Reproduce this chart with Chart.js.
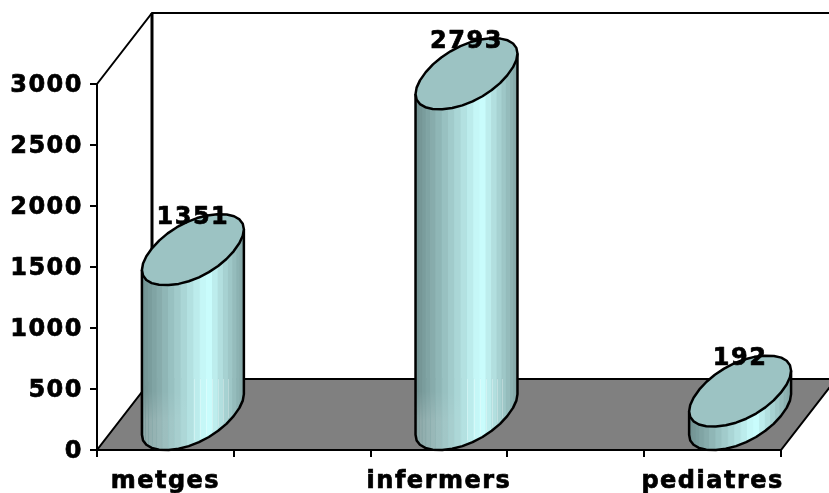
<!DOCTYPE html>
<html>
<head>
<meta charset="utf-8">
<style>
html, body { margin: 0; padding: 0; background: #fff; }
canvas { display: block; }
</style>
<script src="https://cdn.jsdelivr.net/npm/chart.js@4"></script>
</head>
<body>
<canvas id="chart" width="829" height="493"></canvas>
<script>
// two blank categories keep the tick spacing of the original axis
const categories = ['metges', '', 'infermers', '', 'pediatres'];
const values = [1351, null, 2793, null, 192];
const yTicks = [0, 500, 1000, 1500, 2000, 2500, 3000];

const DEPTH_X = 55;
const DEPTH_Y = -71;
const FONT = 'bold 24px "DejaVu Sans"';

// colour of a cylinder strip, pos goes 0 (left) to 1 (right)
function stripColor(pos) {
    const stops = [[0, [110, 142, 142]], [0.65, [204, 255, 255]], [1, [130, 165, 165]]];
    const i = pos < stops[1][0] ? 0 : 1;
    const f = (pos - stops[i][0]) / (stops[i + 1][0] - stops[i][0]);
    const c = stops[i][1].map((v, k) => Math.round(v + (stops[i + 1][1][k] - v) * f));
    return `rgb(${c[0]},${c[1]},${c[2]})`;
}

// slightly squarer than an ellipse, the original cap is fat
function bulge(v) {
    return Math.sign(v) * Math.pow(Math.abs(v), 0.95);
}

function drawCylinder(ctx, x, yBase, yTop, halfW) {
    const stripSegs = 48;
    const lineSegs = 30;
    const pt = (cx, cy, t) => [
        cx + DEPTH_X / 2 + halfW * bulge(Math.cos(t)) + DEPTH_X / 2 * bulge(Math.sin(t)),
        cy + DEPTH_Y / 2 + DEPTH_Y / 2 * bulge(Math.sin(t))
    ];

    // find the right silhouette point of the cap
    let t0 = 0;
    for (let t = 0; t < Math.PI / 2; t += 0.01) {
        if (pt(0, 0, t)[0] > pt(0, 0, t0)[0]) t0 = t;
    }
    const xMin = pt(x, yBase, t0 + Math.PI)[0];
    const xMax = pt(x, yBase, t0)[0];
    const floorY = yBase + DEPTH_Y + 12;

    // body strips, left silhouette round the front to the right silhouette
    for (let i = 0; i < stripSegs / 2; i++) {
        const a = t0 + Math.PI + i * 2 * Math.PI / stripSegs;
        const b = a + 2 * Math.PI / stripSegs;
        const p1 = pt(x, yBase, a), p2 = pt(x, yBase, b), p3 = pt(x, yTop, b), p4 = pt(x, yTop, a);
        const pos = ((p1[0] + p2[0]) / 2 - xMin) / (xMax - xMin);
        ctx.fillStyle = stripColor(pos);
        ctx.strokeStyle = ctx.fillStyle;
        ctx.lineWidth = 1;
        ctx.beginPath();
        ctx.moveTo(p1[0], p1[1]);
        ctx.lineTo(p2[0], p2[1]);
        ctx.lineTo(p3[0], p3[1]);
        ctx.lineTo(p4[0], p4[1]);
        ctx.closePath();
        ctx.fill();
        ctx.stroke();

        // the lower part of a tall cylinder is paler, with faint strip edges
        if (yTop < floorY) {
            if (pos < 0.5) {
                const alpha = 0.22 * (1 - pos * 2);
                const fade = ctx.createLinearGradient(0, floorY, 0, floorY + 30);
                fade.addColorStop(0, 'rgba(255,255,255,0)');
                fade.addColorStop(1, `rgba(255,255,255,${alpha})`);
                ctx.fillStyle = fade;
                ctx.beginPath();
                ctx.moveTo(p1[0], p1[1]);
                ctx.lineTo(p2[0], p2[1]);
                ctx.lineTo(p2[0], floorY);
                ctx.lineTo(p1[0], floorY);
                ctx.closePath();
                ctx.fill();
            } else if (pos < 0.9) {
                ctx.strokeStyle = 'rgba(255,255,255,0.3)';
                ctx.beginPath();
                ctx.moveTo(Math.round(p1[0]) + 0.5, p1[1] - 4);
                ctx.lineTo(Math.round(p1[0]) + 0.5, floorY - 12);
                ctx.stroke();
            }
        }
    }

    // outline of the body
    ctx.strokeStyle = '#000';
    ctx.lineWidth = 2.5;
    ctx.lineJoin = 'round';
    ctx.beginPath();
    let p = pt(x, yTop, t0 + Math.PI);
    ctx.moveTo(p[0], p[1]);
    for (let i = 0; i <= lineSegs / 2; i++) {
        p = pt(x, yBase, t0 + Math.PI + i * 2 * Math.PI / lineSegs);
        ctx.lineTo(p[0], p[1]);
    }
    p = pt(x, yTop, t0);
    ctx.lineTo(p[0], p[1]);
    ctx.stroke();

    // top ellipse
    ctx.fillStyle = '#9cc3c3';
    ctx.beginPath();
    for (let i = 0; i < lineSegs; i++) {
        p = pt(x, yTop, t0 + i * 2 * Math.PI / lineSegs);
        if (i === 0) ctx.moveTo(p[0], p[1]);
        else ctx.lineTo(p[0], p[1]);
    }
    ctx.closePath();
    ctx.fill();
    ctx.stroke();
}

const box3d = {
    id: 'box3d',
    beforeDraw(chart) {
        chart.ctx.letterSpacing = '1.5px';
    },
    beforeDatasetsDraw(chart) {
        const ctx = chart.ctx;
        const a = chart.chartArea;
        ctx.save();
        ctx.strokeStyle = '#000';
        ctx.lineWidth = 2;
        ctx.lineJoin = 'miter';

        // floor
        ctx.fillStyle = '#808080';
        ctx.beginPath();
        ctx.moveTo(a.left, a.bottom);
        ctx.lineTo(a.right, a.bottom);
        ctx.lineTo(a.right + DEPTH_X, a.bottom + DEPTH_Y);
        ctx.lineTo(a.left + DEPTH_X, a.bottom + DEPTH_Y);
        ctx.closePath();
        ctx.fill();
        ctx.stroke();

        // side and back wall edges
        ctx.beginPath();
        ctx.moveTo(a.left, a.top);
        ctx.lineTo(a.left + DEPTH_X, a.top + DEPTH_Y);
        ctx.lineTo(a.right + DEPTH_X, a.top + DEPTH_Y);
        ctx.stroke();
        ctx.lineWidth = 3;
        ctx.beginPath();
        ctx.moveTo(a.left + DEPTH_X, a.top + DEPTH_Y);
        ctx.lineTo(a.left + DEPTH_X, a.bottom + DEPTH_Y);
        ctx.stroke();
        ctx.restore();
    },
    afterDatasetsDraw(chart) {
        const ctx = chart.ctx;
        const xs = chart.scales.x;
        const ys = chart.scales.y;
        const halfW = 42;
        ctx.save();
        values.forEach((v, i) => {
            if (v === null) return;
            drawCylinder(ctx, xs.getPixelForValue(i), ys.getPixelForValue(0), ys.getPixelForValue(v), halfW);
        });
        ctx.fillStyle = '#000';
        ctx.strokeStyle = '#000';
        ctx.lineWidth = 0.7;
        ctx.font = FONT;
        ctx.textAlign = 'center';
        ctx.textBaseline = 'middle';
        values.forEach((v, i) => {
            if (v === null) return;
            const lx = xs.getPixelForValue(i) + DEPTH_X / 2;
            const ly = ys.getPixelForValue(v) + DEPTH_Y / 2 - 32;
            ctx.fillText(String(v), lx, ly);
            ctx.strokeText(String(v), lx, ly);
        });
        ctx.restore();
    }
};

new Chart(document.getElementById('chart').getContext('2d'), {
    type: 'bar',
    data: {
        labels: categories,
        datasets: [{
            data: values,
            backgroundColor: 'rgba(0,0,0,0)',
            borderWidth: 0
        }]
    },
    options: {
        responsive: false,
        animation: false,
        layout: { padding: { top: 84, right: 48, left: 0, bottom: 0 } },
        plugins: { legend: { display: false }, tooltip: { enabled: false } },
        scales: {
            x: {
                afterFit(scale) { scale.height = 43; },
                border: { display: true, color: '#000', width: 2 },
                grid: { drawOnChartArea: false, color: '#000', lineWidth: 2, tickLength: 7 },
                ticks: {
                    autoSkip: false,
                    maxRotation: 0,
                    color: '#000',
                    padding: 10,
                    textStrokeColor: '#000',
                    textStrokeWidth: 0.7,
                    font: { family: 'DejaVu Sans', size: 24, weight: 'bold' }
                }
            },
            y: {
                min: 0,
                max: 3000,
                afterFit(scale) { scale.width = 97; },
                afterBuildTicks(scale) { scale.ticks = yTicks.map(v => ({ value: v })); },
                border: { display: true, color: '#000', width: 2 },
                grid: { drawOnChartArea: false, color: '#000', lineWidth: 2, tickLength: 7 },
                ticks: {
                    color: '#000',
                    padding: 7,
                    labelOffset: 2,
                    textStrokeColor: '#000',
                    textStrokeWidth: 0.7,
                    font: { family: 'DejaVu Sans', size: 24, weight: 'bold' },
                    callback: v => String(v)
                }
            }
        }
    },
    plugins: [box3d]
});
</script>
</body>
</html>
